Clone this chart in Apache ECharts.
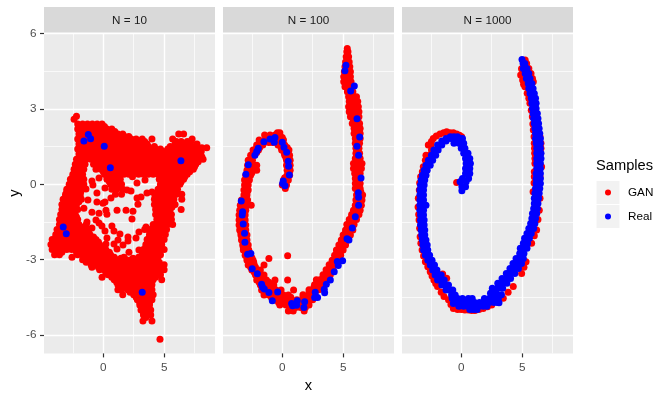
<!DOCTYPE html>
<html lang="en">
<head>
<meta charset="UTF-8">
<title>GAN vs Real samples</title>
<script src="https://cdn.jsdelivr.net/npm/echarts@6/dist/echarts.min.js"></script>
<style>
  html, body { margin: 0; background: #fff; }
  #chart { width: 670px; height: 400px; }
</style>
</head>
<body>
<div id="chart"></div>
<script>
// values. each row: y first, then the x values on that row
const panels = ['N = 10', 'N = 100', 'N = 1000'];
const samples = ['GAN', 'Real'];
const xLabels = [0, 5];
const xMinor = [-2.5, 2.5, 7.5];
const yLabels = [-6, -3, 0, 3, 6];
const yMinor = [-4.5, -1.5, 1.5, 4.5];

const ganN10 = [
  [2.71,-2.2],[2.59,-2.4],
  [2.4,-2.1,-1.7,-1.3,-.9,-.5,-.1],
  [2.3,-1.9,-1.5,-1.1,-.7,-.3,.1],
  [2.2,-2.1,-1.7,-1.3,-.9,-.5,-.1,.3,.7],
  [2.1,-1.85,-1.45,-1.05,-.65,-.25,.15,.55,.95],
  [2,-2,-1.6,-1.2,-.8,-.4,0,.4,.8,1.2,1.6,6.2,6.6],
  [1.9,-1.85,-1.45,-1.05,-.65,-.25,.15,.55,.95,1.35,1.75,2.1],
  [1.8,-2.1,-1.7,-1.3,-.9,-.5,-.1,.3,.7,1.1,1.5,1.9,2.3,2.7,3.2,4,5.7,7.3],
  [1.7,-1.85,-1.45,-1.05,-.65,-.25,.15,.55,.95,1.35,1.75,2.15,2.55,3,3.4,6,6.4,6.9,7.2],
  [1.6,-2,-1.6,-1.2,-.8,-.4,0,.4,.8,1.2,1.6,2,2.4,2.8,3.2,3.6,5.9,6.3,6.7,7.7],
  [1.5,-1.9,-1.5,-1.1,-.7,-.3,.1,.5,.9,1.3,1.7,2.1,2.5,2.9,3.3,3.7,4.2,5.5,6.1,6.5,6.9,7.3,7.7],
  [1.45,8.1,8.5],
  [1.4,-2.1,-1.7,-1.3,-.9,-.5,-.1,.3,.7,1.1,1.5,1.9,2.3,2.7,3.1,3.5,3.9,4.3,4.7,5.3,5.7,6.1,6.5,6.9,7.3,7.7],
  [1.3,-1.85,-1.45,-1.05,-.65,-.25,.15,.55,.95,1.35,1.75,2.15,2.55,2.95,3.35,3.75,4.15,4.55,4.95,5.35,5.75,6.15,6.55,6.95,7.35,7.75,8.05],
  [1.2,-2,-1.6,-1.2,-.8,-.4,0,.4,.8,1.2,1.6,2,2.4,2.8,3.2,3.6,4,4.4,4.8,5.2,5.6,6,6.4,6.8,7.2,7.6,7.9],
  [1.1,-1.85,-1.45,-1.05,-.65,-.25,.15,.55,.95,1.35,1.75,2.15,2.55,2.95,3.35,3.75,4.15,4.55,4.95,5.35,5.75,6.15,6.55,6.95,7.35,7.75,8.1],
  [1,-2.2,-1.8,-1.4,-1,-.6,-.2,.2,.6,1,1.4,1.8,2.2,2.6,3,3.4,3.8,4.2,4.6,5,5.4,5.8,6.2,6.6,7,7.4,7.8,8.2],
  [.9,-2.1,-1.7,-.6,-.2,.2,.6,1,1.4,1.8,2.2,2.6,3,3.4,3.8,4.2,4.6,5,5.4,5.8,6.2,6.6,7,7.4,7.8],
  [.8,-2.3,-1.9,-1.5,-.8,-.4,0,.4,.8,1.2,1.6,2,2.4,2.8,3.2,3.6,4,4.4,4.8,5.2,5.6,6,6.4,6.8,7.2,7.6],
  [.7,-2.2,-1.8,-.5,-.1,.3,.7,1.1,1.5,1.9,2.3,2.7,3.1,3.5,3.9,4.3,4.7,5.1,5.5,5.9,6.3,6.7,7.1,7.5],
  [.6,-2.4,-2,-1.6,-.6,-.2,.2,.6,1,1.4,1.8,2.2,2.6,3,3.4,3.8,4.2,4.6,5,5.4,5.8,6.2,6.6,7,7.4],
  [.5,-2.3,-1.9,0,.4,.8,1.2,1.6,2,2.4,2.8,3.2,3.6,4,4.4,4.8,5.2,5.6,6,6.4,6.8,7.1],
  [.4,-2.5,-2.1,-1.7,.1,.5,.9,1.3,1.7,2.1,2.4,2.9,3.3,3.7,4.1,4.5,4.9,5.3,5.7,6.1,6.5,6.9],
  [.3,-2.5,-2.1,-1.75,.3,.7,1.1,2.4,4.8,5.2,5.6,6,6.4,6.7],
  [.2,-2.7,-2.3,-1.9,-1.6,.3,.7,1.1,1.4,4.6,5,5.4,5.8,6.2,6.6],
  [.1,-2.6,-2.2,-1.8,.5,.9,1.3,4.8,5.2,5.6,6,6.4],
  [0,-2.8,-2.4,-2,-1.6,.6,1,1.5,4.7,5.1,5.5,5.9,6.3],
  [-.1,-2.8,-2.4,-2,.8,1.3,4.7,5.1,5.5,5.9],
  [-.2,-3,-2.6,-2.2,-1.8,.7,1.1,1.6,4.5,4.9,5.3,5.7,6.1],
  [-.3,-3,-2.6,-2.2,-1.85,4.6,5,5.4,5.8],
  [-.4,-3.1,-2.7,-2.3,-1.9,1,1.5,4.4,4.8,5.2,5.6,6,6.45],
  [-.5,-3.1,-2.7,-2.3,-1.9,4.4,4.8,5.2,5.6],
  [-.6,-3.3,-2.9,-2.5,-2.1,-1.8,4.2,4.6,5,5.4,5.8,6.45],
  [-.7,-3.2,-2.8,-2.4,-2,4.4,4.8,5.2,5.6],
  [-.8,-3.4,-3,-2.6,-2.2,4.2,4.6,5,5.4,5.9],
  [-.9,-3.2,-2.8,-2.4,4.45,4.85,5.25,5.65],
  [-1,-3.4,-3,-2.6,-2.1,4.3,4.7,5.1,5.5,6.4],
  [-1.1,-3.3,-2.9,-2.4,4.5,4.9,5.3],
  [-1.2,-3.5,-3.1,-2.7,-2.3,4.3,4.7,5.1,5.6],
  [-1.3,-3.4,-3,-2.6,-2.2,4.5,4.9,5.3],
  [-1.4,-3.6,-3.2,-2.8,-2.4,-2.1,4.4,4.8,5.2,5.6],
  [-1.5,-3.4,-3,-2.6,-2.2,4.6,5,5.4],
  [-1.6,-3.6,-3.2,-2.8,-2.4,-2,-1.4,4.1,4.5,4.9,5.3,5.7],
  [-1.7,-3.5,-3.1,-2.7,-2.3,-1.9,-1.6,4.1,4.5,4.9],
  [-1.8,-3.8,-3.4,-3,-2.6,-2.2,-1.8,-1.4,3.4,3.9,4.3,4.7,5.2],
  [-1.9,-3.6,-3.2,-2.8,-2.4,-2,-1.6,-1.2,4.1,4.5,4.9],
  [-2,-3.9,-3.5,-3.1,-2.7,-2.3,-1.9,-1.5,-1.1,3.8,4.2,4.6,5.1],
  [-2.1,-3.9,-3.5,-3.1,-2.7,-2.3,-1.9,-1.5,-1.1,-.8,3.8,4.2,4.6],
  [-2.2,-4.2,-3.8,-3.4,-3,-2.6,-2.2,-1.8,-1.4,-1,-.6,3.6,4,4.4,5],
  [-2.3,-4,-3.6,-3.2,-2.8,-2.4,-2,-1.6,-1.2,-.8,-.4,3.7,4.1,4.5],
  [-2.4,-4.3,-3.9,-3.5,-3.1,-2.7,-2.3,-1.9,-1.5,-1.1,-.7,-.3,3.5,3.9,4.3,4.8],
  [-2.5,-4,-3.6,-3.2,-2.8,-2.4,-2,-1.6,-1.2,-.8,-.4,0,3.5,3.9,4.3,4.7],
  [-2.6,-4.2,-3.8,-3.4,-3,-2.6,-2.2,-1.8,-1.4,-1,-.6,-.2,.2,3.3,3.7,4.1,4.5,5],
  [-2.7,-3.8,-3.4,-2.2,-1.9,-1.5,-1.1,-.7,-.3,.1,.5,3.4,3.8,4.2,4.6],
  [-2.8,-4,-3.6,-2.1,-1.7,-1.3,-.9,-.5,-.1,.3,.6,3.2,3.6,4,4.4,4.7],
  [-2.9,-1.5,-1.1,-.7,-.3,.1,.5,.9,1.7,2.9,3.4,3.8,4.2,4.5],
  [-3,-1.7,-1.3,-.9,-.5,-.1,.3,.7,1.1,1.5,1.9,2.3,2.7,3.1,3.5,3.9,4.3],
  [-3.1,-1.4,-1,-.6,-.2,.2,.6,1,1.4,1.8,2.2,2.6,3,3.4,3.8,4.2,4.6],
  [-3.2,-1,-.6,-.2,.2,.6,1,1.4,1.8,2.2,2.6,3,3.4,3.8,4.2,4.6,5],
  [-3.3,-.93,-.4,0,.4,.8,1.2,1.6,2,2.4,2.8,3.2,3.6,4,4.4,4.8],
  [-3.4,-.3,.1,.5,.9,1.3,1.7,2.1,2.5,2.9,3.3,3.7,4.1,4.5,5],
  [-3.5,.2,.6,1,1.4,1.8,2.2,2.6,3,3.4,3.8,4.2,4.6],
  [-3.6,.4,.8,1.2,1.6,2,2.4,2.8,3.2,3.6,4,4.4,4.7],
  [-3.7,-.1,.7,1.1,1.5,1.9,2.3,2.7,3.1,3.5,3.9,4.3],
  [-3.8,.9,1.3,1.7,2.1,2.5,2.9,3.3,3.7,4.1,4.8],
  [-3.9,1.1,1.5,1.9,2.3,2.7,3.1,3.5,3.9],
  [-4,1.2,1.6,2,2.4,2.8,3.2,3.6,4],
  [-4.1,1.4,1.8,2.2,2.6,3,3.4,3.8],
  [-4.2,1.2,1.5,2,2.4,2.8,3.2,3.6,4],
  [-4.3,2.2,2.6,3,3.4,3.8],
  [-4.4,1.6,2.5,2.9,3.3,3.7,4.1],
  [-4.5,2.7,3.1,3.5,3.9],
  [-4.6,2.8,3.2,3.6,4],
  [-4.7,3,3.4,3.8],
  [-4.8,3,3.4,3.8],
  [-4.9,3.2,3.6],
  [-5,3.1,3.5,3.9],
  [-5.1,3.3,3.7],
  [-5.2,3.3,3.7,3.9],
  [-5.3,3.5],
  [-5.44,3.26,4],
  [-6.17,4.66],
  // loose points inside the frame
  [.25,-.35],[.13,-.93],[-.03,-.85],[-.15,.14],[-.35,-.52,3.59],[-.19,-1.42],[.05,2.77],[.17,3.43],
  [-.23,1.95],[-.27,2.28],[-.55,.63,2.77],[-.71,.14,-.52],[-.63,-1.26],[-.51,3.1],[-.31,4],[-.47,4.25],
  [-.79,2.85],[-.75,-.02],[-.95,-1.59],[-1.11,-.93],[-1.15,-.35],[-1.03,.22,1.13,1.87],[-1.19,.3],
  [-1.07,2.44],[-1.38,2.36],[-1.5,-1.34],[-1.42,-.6],[-1.54,-.35],[-1.74,-.93],[-1.66,-.11,.71],
  [-1.86,.14,.88],[-1.98,1.37],[-2.22,1.21],[-2.14,.3,2.69],[-2.1,2.03],[-2.26,2.03],[-1.9,2.93],
  [-1.7,3.51],[-1.82,3.76],[-2.38,.88,.22],[-2.42,1.62],[-2.58,1.13],[-2.7,2.11],[-2.62,2.93],
  [-2.78,.47],[-2.94,1.45,2.44],[-2.9,-2.57]
];
const realN10 = [[1.98,-1.23],[1.81,-1.04],[1.72,-1.59],[1.51,.08],[.66,.58],[.94,6.38],[-1.7,-3.29],[-1.97,-3.04],[-4.3,3.2]];

const ganN100 = [
  [5.4,5.34],[5.27,5.3,5.4],[5.07,5.25,5.45],[4.87,5.2,5.5],[4.68,5.15,5.55],[4.48,5.1,5.35,5.6],
  [4.28,5.05,5.35,5.6],[4.08,5.05,5.35,5.65],[3.88,5.15,5.4,5.7],[3.68,5.35,5.6,5.8],[3.48,5.45,5.75,6.1],
  [3.29,5.5,5.8,6.2],[3.09,5.45,5.85,6.25],[2.89,5.5,5.9,6.3],[2.69,5.6,6,6.3],[2.42,5.75,6.05,6.35],
  [2.22,5.9,6.15,6.4],[2.02,5.9,6.15,6.4],[1.82,6,6.4],[1.63,6,6.35],[1.43,6.05,6.3],[1.23,6.05,6.35],[1.03,6,6.4],
  [.83,5.85,6.2,6.55],[.63,5.85,6.2,6.5],[.43,5.95,6.15,6.4],[.23,6,6.35],[.03,6,6.4],[-.17,6,6.4],
  [-.43,6.1,6.35,6.6],[-.63,6.05,6.3,6.55],[-.83,6,6.25,6.5],[-1.03,5.85,6.1,6.4],[-1.2,5.7,6,6.3],[-1.4,5.5,5.8,6.1],[-1.6,5.3,5.6,5.9],
  [-1.82,5.2,5.5,5.8],[-2.02,5,5.3,5.6],[-2.22,4.85,5.1,5.4],[-2.42,4.65,4.95,5.2],[-2.62,4.45,4.75,5],[-2.82,4.3,4.55,4.8],
  [-3.02,4.1,4.35,4.65],[-3.2,3.85,4.1,4.4],[-3.4,3.6,3.9,4.15],[-3.6,3.35,3.65,3.95],[-3.8,2.8,3.1,3.4,3.65],[-4,2.65,3,3.35],
  [-4.2,2.2,2.6,3],[-4.4,1.7,2.2,2.7],[-4.6,1.2,1.7,2.1,2.5],[-4.8,.6,1,1.4,1.8,2.2],[-5.04,.5,.9,1.8],
  [-4.8,-.2,.3],[-4.61,-.5,-.1,.3,.7],[-4.41,-1.5,-1.1,-.7,-.3,.1,.5],[-4.21,-1.7,-1.3,-.9,-.5,-.1,.93],
  [-4.01,-1.8,-1.4,-1,-.7],[-3.81,-2.1,-1.7,-1.3,-.6,.44],[-3.61,-2.2,-1.8,-1.5],[-3.41,-2.5,-2.1,-1.8],
  [-3.21,-2.8,-2.3,-1.5],[-3.02,-2.9,-2.65,-2.4],[-2.95,-1.1],[-2.84,.44],[-2.82,-3.05,-2.8,-2.6],[-2.62,-3.2,-2.95,-2.75],
  [-2.42,-3.25,-2.8],[-2.22,-3.35,-3.1,-2.9],[-2.02,-3.4,-3.15,-2.9],[-1.82,-3.5,-3.25,-3],[-1.62,-3.55,-3.25,-3],[-1.42,-3.55,-3.3,-3.05],
  [-1.22,-3.55,-3.3,-3.05],[-1.03,-3.5,-3.25,-3],[-.83,-3.45,-3.2,-2.9,-2.55],[-.63,-3.35,-3.1,-2.85],[-.43,-3.15,-2.9],
  [-.23,-3.15,-2.8],[-.03,-3.1,-2.8],[.17,-3.1,-2.9,-2.7],[.36,-3,-2.8,-2.6],[.56,-2.9,-2.65,-2.4,-2.1],[.76,-2.85,-2.6,-2.4,-2.1],
  [.96,-2.8,-2.45],[1.16,-2.6,-2.3],[1.36,-2.4,-1.95],[1.56,-2.1,-1.6],[1.76,-1.9,-1.4,-1,-.6,-.2,.1],
  [1.96,-1.45,-1,-.6,-.2],[2.05,-.4,-.2],
  [1.56,-.35,.2],[1.36,-.05,.55],[1.16,.2,.6],[.96,.35,.65],[.76,.35,.65],[.56,.4,.65],[.36,.4,.6],
  [.17,.1,.5],[-.03,0,.35],[-.17,.25],
  // between the rows above
  [3.38,5.65,6],[3.19,5.65,6.05],[2.99,5.7,6.1],[2.79,5.7,6.1],[2.55,5.85,6.2],[2.32,6,6.3],[2.12,6,6.3],[1.92,6.2],[1.72,6.2],
  [1.53,6.18],[1.33,6.18],[1.13,6.2],[.93,6.2],[.73,6.05,6.35],[.53,6.05,6.3],[.33,6.2],[.13,6.2],[-.07,6.2],[-.3,6.2,6.45],
  [-.53,6.2,6.45],[-.73,6.15,6.4],[-.93,6.05,6.3],[-1.12,5.9,6.2],[-1.3,5.7,6],[-1.5,5.5,5.8],[-1.71,5.4,5.7],[-1.92,5.2,5.5],
  [-2.12,5.05,5.3],[-2.32,4.85,5.1],[-2.52,4.7,4.95],[-2.72,4.5,4.75],[-2.92,4.35,4.6],[-3.11,4.1,4.4],[-3.3,3.9,4.15],
  [-3.5,3.65,3.95],[-3.7,3.35,3.65],[-3.9,3,3.3],[-4.1,2.6,3],[-4.3,2.2,2.6],[-4.5,1.7,2.1],[-4.7,1,1.4,1.8,2.1,-.3,.1,.5],[-4.9,.7,1.1,1.5,1.9],
  [-4.5,-.9,-.5,-.1,.3,.7],[-4.3,-1.5,-1.1,-.7,-.3],[-4.1,-1.6,-1.2,-.8],[-3.9,-1.9,-1.5,-1.1],[-3.7,-2,-1.6],[-3.5,-2.3,-1.95],
  [-3.3,-2.6,-2.2],[-3.1,-2.7,-2.35],[-2.92,-2.9,-2.5],[-2.72,-3,-2.7],[-2.52,-3.2,-2.85],[-2.32,-3.2,-2.95],[-2.12,-3.3,-3.1],
  [-1.92,-3.4,-3.1],[-1.72,-3.4,-3.15],[-1.52,-3.4,-3.15],[-1.32,-3.45,-3.15],[-1.12,-3.4,-3.15],[-.93,-3.3,-3.05],[-.73,-3.2,-2.95],
  [-.53,-3.05],[-.33,-3,-2.9],[-.13,-2.95],[.07,-2.9],[.27,-2.85],[.46,-2.75,-2.5],[.66,-2.7,-2.35],[.86,-2.6],[1.06,-2.5],
  [1.26,-2.35,-2.1],[1.46,-2.1,-1.85,-.1,.4],[1.66,-1.85,-1.5,-1.1,-.8,-.4],[1.86,-1.2,-.8,-.4,0],
  [1.26,.15,.45],[1.06,.3,.55],[.86,.5],[.66,.5],[.46,.5],[.26,.4,.2],[.07,.2]
];
const realN100 = [
  [4.74,5.23],[4.52,5.15],[3.91,5.92],[3.71,5.62],[2.61,6.14],[1.88,6.36],[1.51,6.14],[1.16,6.27],[.25,6.47],
  [-.34,6.25],[-.52,6.27],[-.83,6.27],[-1.29,6],[-1.74,5.75],[-2.17,5.32],[-2.22,5.48],[-3.04,4.96],[-3.07,4.52],
  [-3.23,4.6],[-3.48,4.27],[-3.81,3.95],[-3.98,3.62],[-4.18,3.45],[-4.32,3.48],[-4.3,2.71],[-4.51,2.66,2.9],
  [-4.67,1.84],[-4.9,1.78],[-4.63,1.23],[-4.74,.77],[-4.81,1.18],[-4.83,.85],[-4.29,-.38],[-4.63,-.82],
  [-4.31,-1.1],[-4.17,-1.48],[-3.98,-1.7],[-4.1,-1.62],[-3.56,-2.05],[-3.36,-2.47],[-2.75,-2.58],[-2.78,-2.85],
  [-2.31,-3.07],[-1.95,-3.1],[-1.58,-3.21],[-1.22,-3.29],[-1.09,-3.26],[-.67,-3.37],
  [.78,-2.79],[.4,-2.99],[1.16,-2.25],[1.43,-1.97],[1.3,-2.1],[1.69,-1.51],[1.8,-1.01],[1.86,-.6],[1.67,-.66,0],
  [1.47,.14],[1.27,.36],[.92,.49],[.72,.52],[.37,.58],[.13,.08],[-.06,.22],[.03,.03]
];

const ganN1000 = [
  [4.95,5.25],[4.81,5.37],[4.61,5.55],[4.41,5.73],[4.21,5.85],[4.08,5.92],[4.6,4.95],[4.35,4.88],[4.15,5.04],[3.98,5.12],[3.88,5.23],[3.62,5.42],[3.42,5.55],[3.22,5.64],[2.95,5.75],[2.69,5.84],
  [2.4,5.88],[2.16,5.92],[1.89,6.47,5.98],[1.63,6,6.55],[1.43,6.02,6.55],[1.23,6.03,6.52],[1.03,6.05],[.83,6.05],[.7,6.6],[.5,6],[.3,6,6.47],[.05,5.98],[-.3,5.9],
  [1.36,-2.45],[1.16,-2.9,-2.6],[.96,-2.95],[.7,-3.12],[.5,-3.2],[.3,-3.34],[.05,-3.42],[-.23,-3.45],[-.56,-3.53,6.47],[-.9,-3.55],[-1.2,-3.5],[-1.42,-3.47],[-1.75,-3.42],[-2.09,-3.38],[-2.35,-3.32],
  [-2.62,-3.22],[-2.85,-3.1],[-3.08,-2.95,5.32],[-3.28,-2.75],[-3.48,-2.55],[-3.65,-2.4],[-3.81,-2.25],[-3.95,-2.1],[-4.07,-1.95,4.27],[-3.57,-1.53],[-3.74,-1.2],
  [-4.3,-1.65],[-4.47,-1.42],[-4.6,-1.05],[-4.78,-.85],[-4.94,-.65,1.8],[-4.98,0,-.3],[-5,.58,.3],[-5.02,1.12,.85],[-4.98,1.45],[-4.87,2.15],[-4.8,2.5],[-4.67,3],[-4.54,3.45],[-4.3,3.85],
  [-3.55,4.96],[-3.3,5.15],[-2.35,5.78],[-2.05,6],[-1.82,6.19],[-1.4,6.3],[-1.03,6.41],
  [1.56,-2.71,-2.5],[1.7,-2.45],[1.82,-2.3],[1.92,-2.05],[2,-1.75,-.38],[2.05,-1.45],[2.09,-1.2],[2.05,-.93,-.65],[1.95,-.15],[1.89,.03],[.07,-.38]
];
const realN1000 = [
  [4.97,4.99],[4.81,5.08,5.22],[4.61,5.1,5.4],[4.41,5.25,5.55],[4.21,5.35,5.65],[4.01,5.5,5.8],[3.81,5.55,5.9],
  [3.61,5.65,6],[3.42,5.75,6.1],[3.22,5.8,6.15],[3.02,5.85,6.15],[2.82,5.9,6.25],[2.62,5.95,6.3],[2.42,6,6.35],
  [2.22,6.05,6.4],[2.02,6.1,6.45],[1.82,6.1,6.5],[1.63,6.15,6.5],[1.43,6.2,6.5],[1.23,6.2,6.55],[1.03,6.2,6.55],
  [.83,6.2,6.5],[.63,6.2,6.5],[.43,6.15,6.5],[.23,6.15,6.5],[.03,6.15,6.5],[-.17,6.1,6.45],[-.36,6.05,6.4],
  [-.56,6,6.35],[-.76,6,6.3],[-.96,5.95,6.25],[-1.16,5.85,6.2],[-1.36,5.8,6.1],[-1.56,5.7,6.05],[-1.76,5.55,5.95],
  [-1.96,5.4,5.75],[-2.15,5.2,5.6],[-2.35,5.1,5.45],[-2.55,4.85,5.1,5.4],[-2.75,4.8,5.15],[-2.95,4.5,4.8,5.1],
  [-3.15,4.25,4.6,4.95],[-3.35,4,4.35,4.7],[-3.55,3.7,4.05,4.4],[-3.75,3.35,3.7,4.05],[-3.94,3,3.4,3.75],[-4.14,2.55,3,3.4],
  [-4.34,2.4,2.85],[-4.71,3.1],[-4.55,-.75,-.3,.1,.58,.9,1.9,2.3,2.7,3.05],[-4.4,2.6,3,3.3],
  [-4.7,-.5,-.1,.3,.7,1.1,1.5,1.9,2.3,2.7,3],[-4.85,-.2,.2,.6,1,1.4,1.8,2.1],[-4.98,.7,1,1.3],
  [-4.74,-.65],[-4.41,-.8,-.5],[-4.21,-1.25,-.95,-.7],[-4.01,-1.6,-1.3,-1.05],[-3.81,-1.95,-1.65,-1.4],
  [-3.61,-2.15,-1.85,-1.65],[-3.41,-2.35,-2],[-3.21,-2.55,-2.2],[-3.02,-2.75,-2.4],[-2.82,-2.95,-2.6],[-2.62,-3.1,-2.75],
  [-2.42,-3.15,-2.8],[-2.22,-3.2,-2.9],[-2.02,-3.25,-3],[-1.82,-3.3,-3],[-1.62,-3.35,-3.05],[-1.42,-3.35,-3.05],
  [-1.22,-3.35,-3.1],[-1.03,-3.4,-3.1],[-.83,-3.4,-3.1,-2.9],[-.63,-3.4,-3.1],[-.43,-3.4,-3.1],[-.23,-3.4,-3.1],
  [-.03,-3.35,-3.05],[.17,-3.3,-3],[.36,-3.2,-2.9],[.56,-3.05,-2.8],[.76,-2.9,-2.55],[.96,-2.7,-2.35],
  [1.16,-2.45,-2.1],[1.36,-2.25,-1.9],[1.56,-1.95,-1.6],[1.72,-1.6,-1.25],[1.82,-1.25,-.9,-.4,-.1,.1],
  [1.89,-.9,-.6,-.3],[1.63,-.2,.2,-.6],[1.43,0,.3],[1.23,.2,.55],[1.03,.35,.7],[.83,.4,.75],[.63,.35,.7],
  [.43,.35,.7],[.23,.1,.6],[.1,-.1,.4],[-.1,.05,.35],[-.26,.05]
];

const ganData = [ganN10, ganN100, ganN1000];
const realData = [realN10, realN100, realN1000];

// row [y, x1, x2...] -> [[x1, y], [x2, y]...]
function toPoints(rows) {
    return rows.flatMap(row => row.slice(1).map(x => [x, row[0]]));
}

const FONT = '"Liberation Sans", Helvetica, Arial, sans-serif';
const panelLeft = [44, 223, 402];
const panelWidth = 171;
const panelTop = 33;
const panelHeight = 320.4;
const DOT = 7;

const grid = [], xAxis = [], yAxis = [], series = [], graphic = [];

panels.forEach((label, i) => {
    grid.push({ left: panelLeft[i], top: panelTop, width: panelWidth, height: panelHeight, show: true, backgroundColor: '#ebebeb', borderWidth: 0 });

    // major axes, these carry ticks and labels
    xAxis.push({
        type: 'value', gridIndex: i, min: -4.87, max: 9.18, position: 'bottom',
        name: i === 1 ? 'x' : '', nameLocation: 'middle', nameGap: 24,
        nameTextStyle: { fontFamily: FONT, fontSize: 14.67, color: '#000' },
        axisLine: { show: false, onZero: false },
        axisTick: { show: true, length: 4, customValues: xLabels, lineStyle: { color: '#333', width: 1.2 } },
        axisLabel: { show: true, margin: 8, customValues: xLabels, fontFamily: FONT, fontSize: 11.7, color: '#4d4d4d' },
        splitLine: { show: true, lineStyle: { color: '#fff', width: 1.4 } }
    });
    yAxis.push({
        type: 'value', gridIndex: i, min: -6.73, max: 6.02, position: 'left',
        name: i === 0 ? 'y' : '', nameLocation: 'middle', nameGap: 21,
        nameTextStyle: { fontFamily: FONT, fontSize: 14.67, color: '#000' },
        axisLine: { show: false, onZero: false },
        axisTick: { show: i === 0, length: 4, customValues: yLabels, lineStyle: { color: '#333', width: 1.2 } },
        axisLabel: { show: i === 0, margin: 7.5, customValues: yLabels, fontFamily: FONT, fontSize: 11.7, color: '#4d4d4d' },
        splitLine: { show: true, lineStyle: { color: '#fff', width: 1.4 } }
    });

    series.push({ name: samples[0], type: 'scatter', xAxisIndex: i, yAxisIndex: i, data: toPoints(ganData[i]), symbolSize: DOT, itemStyle: { color: '#ff0000', opacity: 1 }, silent: true, z: 3 });
    series.push({ name: samples[1], type: 'scatter', xAxisIndex: i, yAxisIndex: i, data: toPoints(realData[i]), symbolSize: DOT, itemStyle: { color: '#0000ff', opacity: 1 }, silent: true, z: 4 });

    graphic.push({ type: 'rect', shape: { x: panelLeft[i], y: 7, width: panelWidth, height: 25.5 }, style: { fill: '#d9d9d9' }, z: 1 });
    graphic.push({ type: 'text', x: panelLeft[i] + panelWidth / 2, y: 20.5, z: 2, style: { text: label, fill: '#1a1a1a', font: '11.7px ' + FONT, textAlign: 'center', textVerticalAlign: 'middle' } });
});

// second set of axes only for the thin minor grid lines
panels.forEach((label, i) => {
    xAxis.push({
        type: 'value', gridIndex: i, min: -4.87, max: 9.18, position: 'bottom',
        axisLine: { show: false, onZero: false }, axisLabel: { show: false },
        axisTick: { show: false, customValues: xMinor },
        splitLine: { show: true, lineStyle: { color: '#fff', width: 0.7 } }
    });
    yAxis.push({
        type: 'value', gridIndex: i, min: -6.73, max: 6.02, position: 'left',
        axisLine: { show: false, onZero: false }, axisLabel: { show: false },
        axisTick: { show: false, customValues: yMinor },
        splitLine: { show: true, lineStyle: { color: '#fff', width: 0.7 } }
    });
});

// legend
graphic.push({ type: 'text', x: 596, y: 166, z: 2, style: { text: 'Samples', fill: '#000', font: '14.67px ' + FONT, textAlign: 'left', textVerticalAlign: 'middle' } });
graphic.push({ type: 'rect', shape: { x: 596.5, y: 181, width: 23, height: 23 }, style: { fill: '#f2f2f2' }, z: 1 });
graphic.push({ type: 'rect', shape: { x: 596.5, y: 205, width: 23, height: 23 }, style: { fill: '#f2f2f2' }, z: 1 });

const chart = echarts.init(document.getElementById('chart'), null, { renderer: 'canvas' });
chart.setOption({
    animation: false,
    backgroundColor: '#fff',
    grid: grid,
    xAxis: xAxis,
    yAxis: yAxis,
    series: series,
    graphic: graphic,
    tooltip: { show: false },
    legend: {
        data: samples, orient: 'vertical', left: 605, top: 185.5,
        itemWidth: 6, itemHeight: 6, itemGap: 10, icon: 'circle',
        selectedMode: false, padding: 0,
        textStyle: { fontFamily: FONT, fontSize: 11.7, color: '#000', padding: [0, 0, 0, 12], lineHeight: 14 }
    }
});
</script>
</body>
</html>
